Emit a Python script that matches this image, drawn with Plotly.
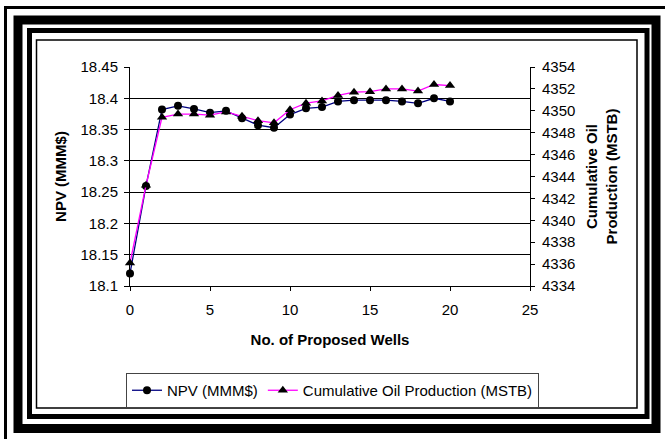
import plotly.graph_objects as go

# Number of proposed wells
wells = list(range(0, 21))

# Net present value, MMM$
npv = [18.120, 18.260, 18.382, 18.388, 18.383, 18.377, 18.380, 18.368, 18.357, 18.353,
       18.374, 18.384, 18.386, 18.395, 18.397, 18.397, 18.397, 18.395, 18.392, 18.400, 18.395]

# Cumulative oil production, MSTB
cum_oil = [4336.1, 4343.2, 4349.4, 4349.7, 4349.7, 4349.6, 4349.9, 4349.5, 4349.1, 4348.9,
           4350.1, 4350.7, 4350.9, 4351.4, 4351.7, 4351.75, 4352.0, 4352.0, 4351.8, 4352.4, 4352.3]

npv_ticks = [18.1, 18.15, 18.2, 18.25, 18.3, 18.35, 18.4, 18.45]
npv_ticktext = ["18.1", "18.15", "18.2", "18.25", "18.3", "18.35", "18.4", "18.45"]
oil_ticks = list(range(4334, 4356, 2))
well_ticks = [0, 5, 10, 15, 20, 25]

FONT = "Arial, Liberation Sans, sans-serif"
W, H = 665, 439
ML, MR, MT, MB = 130, 135, 67, 153
PW, PH = W - ML - MR, H - MT - MB


def px(x):
    return (x - ML) / PW


def py(y):
    return (H - MB - y) / PH


fig = go.Figure()
fig.add_trace(go.Scatter(
    x=wells, y=npv, name="NPV (MMM$)", mode="lines+markers",
    line=dict(color="#000080", width=1.3),
    marker=dict(symbol="circle", size=8, color="black"),
    cliponaxis=False,
))
fig.add_trace(go.Scatter(
    x=wells, y=cum_oil, name="Cumulative Oil Production (MSTB)", mode="lines+markers",
    yaxis="y2",
    line=dict(color="#FF00FF", width=1.3),
    marker=dict(symbol="triangle-up", size=9, color="black"),
    cliponaxis=False,
))

# Layered black frame around the chart
frame = [
    (5.5, 7.5, 667.5, 440.5, 3),
    (18, 20, 656, 428.5, 9),
    (29.5, 30.5, 647, 416.5, 5),
    (36.5, 40, 637, 408, 1.5),
]
shapes = [
    dict(type="rect", xref="paper", yref="paper",
         x0=px(x0), x1=px(x1), y0=py(y1), y1=py(y0),
         line=dict(color="black", width=w), fillcolor="rgba(0,0,0,0)", layer="above")
    for x0, y0, x1, y1, w in frame
]

fig.update_layout(
    width=W, height=H,
    margin=dict(l=ML, r=MR, t=MT, b=MB),
    paper_bgcolor="white", plot_bgcolor="white",
    font=dict(family=FONT, size=15, color="black"),
    showlegend=True,
    legend=dict(
        orientation="h", x=px(126), y=py(373), xanchor="left", yanchor="top",
        bordercolor="#444", borderwidth=1, font=dict(size=15, family=FONT),
        itemwidth=30, tracegroupgap=0,
    ),
    xaxis=dict(
        range=[0, 25], tickvals=well_ticks, showgrid=False, zeroline=False,
        showline=True, linecolor="black", linewidth=1,
        ticks="outside", ticklen=4, tickcolor="black", ticklabelstandoff=6,
        title=dict(text="<b>No. of Proposed Wells</b>", standoff=17, font=dict(size=15)),
    ),
    yaxis=dict(
        range=[18.1, 18.45], tickvals=npv_ticks, ticktext=npv_ticktext,
        showgrid=True, gridcolor="black", gridwidth=1, zeroline=False,
        showline=True, linecolor="black", linewidth=1,
        ticks="outside", ticklen=5, tickcolor="black", ticklabelstandoff=3,
        title=dict(text="<b>NPV (MMM$)</b>", standoff=10, font=dict(size=15)),
    ),
    yaxis2=dict(
        range=[4334, 4354], tickvals=oil_ticks, overlaying="y", side="right", anchor="x",
        showgrid=False, zeroline=False,
        showline=True, linecolor="black", linewidth=1,
        ticks="outside", ticklen=4, tickcolor="black", ticklabelstandoff=4,
        title=dict(text="<b>Cumulative Oil<br>Production (MSTB)</b>", standoff=12,
                   font=dict(size=15)),
    ),
    yaxis3=dict(
        range=[4334, 4354], tickvals=oil_ticks, overlaying="y", side="right", anchor="x",
        showgrid=False, zeroline=False, showline=False, showticklabels=False,
        ticks="inside", ticklen=4, tickcolor="black",
    ),
    shapes=shapes,
)

fig.write_html("out.html")
